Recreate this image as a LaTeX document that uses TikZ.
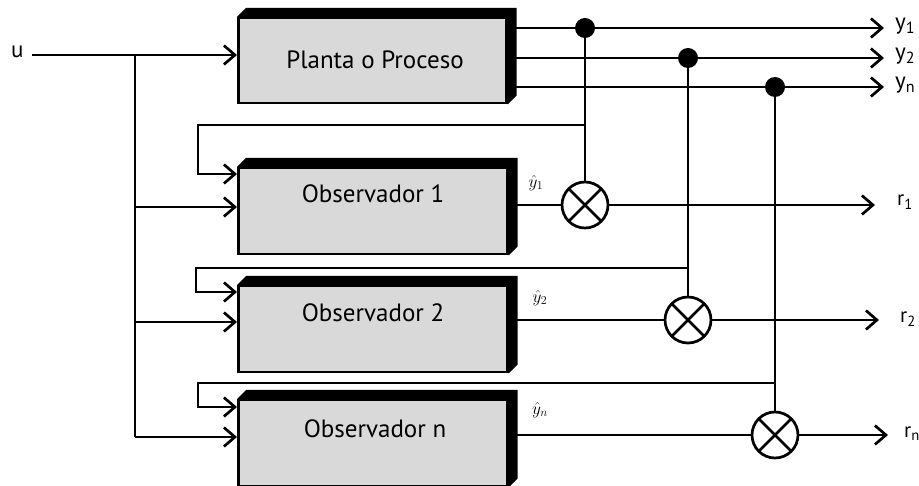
\documentclass[tikz,border=0pt]{standalone}
\usepackage{fontspec}
\setmainfont{PT Sans}
\usetikzlibrary{arrows.meta,calc}
\begin{document}
\begin{tikzpicture}[x=1pt,y=-1pt,
  wire/.style={line width=2.7pt},
  arr/.style={wire,-{Straight Barb[length=11pt,width=19pt,line width=2.7pt]}},
  face/.style={draw,line width=2.5pt,fill=black!15,minimum width=269pt,minimum height=86pt,inner sep=0pt,anchor=north west},
  boxtext/.style={font=\fontsize{25}{27}\selectfont,inner sep=0pt},
  lab/.style={font=\fontsize{23}{25}\selectfont,inner sep=0pt,anchor=west},
  rlab/.style={font=\fontsize{21}{23}\selectfont,inner sep=0pt,anchor=west},
  hatlab/.style={font=\fontsize{17}{19}\selectfont,inner sep=0pt},
  mult/.style={draw,circle,line width=2.7pt,minimum size=46pt,inner sep=0pt,
    path picture={\draw[line width=2.7pt] (path picture bounding box.north west) -- (path picture bounding box.south east)
      (path picture bounding box.north east) -- (path picture bounding box.south west);}},
  dot/.style={fill,circle,minimum size=20pt,inner sep=0pt}
]
\useasboundingbox (0,0) rectangle (919,486);

% boxes (front faces)
\node[face,minimum width=268pt,minimum height=85pt] (plant) at (237,17) {};
\node[face] (obs1) at (237,167) {};
\node[face] (obs2) at (237,285) {};
\node[face] (obsn) at (237,399) {};
% extrusions
\foreach \b in {plant,obs1,obs2,obsn}{
  \fill (\b.north west) -- ++(9,-9) -- ($(\b.north east)+(9,-9)$) -- ($(\b.south east)+(9,-9)$)
    -- (\b.south east) -- (\b.north east) -- cycle;
}
\node[boxtext] (tp) at (375,60) {Planta o Proceso};
\node[boxtext] (t1) at (373,194) {Observador 1};
\node[boxtext] (t2) at (373,313) {Observador 2};
\node[boxtext] (tn) at (375,429) {Observador n};

% input
\node[lab] (u) at (11,52) {u};
\coordinate (pin) at (237,55);
\coordinate (b0) at (135,55);
\coordinate (b1) at (135,207);
\coordinate (b2) at (135,322);
\coordinate (bn) at (135,437);
\draw[arr,shorten <=8pt] (u.east |- pin) -- (pin);
\draw[wire] (b0) -- (bn);
\draw[arr] (b1) -- (b1 -| obs1.west);
\draw[arr] (b2) -- (b2 -| obs2.west);
\draw[arr] (bn) -- (bn -| obsn.west);

% outputs
\coordinate (o1) at (514,28);
\coordinate (o2) at (514,58);
\coordinate (on) at (514,87);
\node[lab] (ly1) at (895,26) {y\textsubscript{1}};
\node[lab] (ly2) at (895,56) {y\textsubscript{2}};
\node[lab] (lyn) at (895,85) {y\textsubscript{n}};
\draw[arr] (o1) -- (884,28) coordinate (e1);
\draw[arr] (o2) -- (884,58) coordinate (e2);
\draw[arr] (on) -- (884,87) coordinate (en);
\node[dot] (d1) at (585,28) {};
\node[dot] (d2) at (688,58) {};
\node[dot] (dn) at (775,87) {};

% multipliers
\node[mult] (m1) at (585,205) {};
\node[mult] (m2) at (688,320) {};
\node[mult] (mn) at (775,435) {};
\draw[wire] (d1) -- (m1);
\draw[wire] (d2) -- (m2);
\draw[wire] (dn) -- (mn);

% feedback loops
\coordinate (f1) at (585,125);
\coordinate (f2) at (688,268);
\coordinate (fn) at (775,383);
\draw[arr] (f1) -- (198,125) -- (198,174) -- ($(obs1.north west)+(0,7)$);
\draw[arr] (f2) -- (196,268) -- (196,292) -- ($(obs2.north west)+(0,7)$);
\draw[arr] (fn) -- (198,383) -- (198,407) -- ($(obsn.north west)+(0,8)$);

% estimates and residuals
\coordinate (h1) at (514,205);
\coordinate (h2) at (514,320);
\coordinate (hn) at (514,435);
\draw[wire] (h1) -- (m1);
\draw[wire] (h2) -- (m2);
\draw[wire] (hn) -- (mn);
\node[hatlab] (hl1) at (536,183) {$\hat{y}_1$};
\node[hatlab] (hl2) at (540,298) {$\hat{y}_2$};
\node[hatlab] (hln) at (540,410) {$\hat{y}_n$};
\node[rlab] (lr1) at (897,202) {r\textsubscript{1}};
\node[rlab] (lr2) at (900,319) {r\textsubscript{2}};
\node[rlab] (lrn) at (904,434) {r\textsubscript{n}};
\draw[arr] (m1) -- (875,205) coordinate (er1);
\draw[arr] (m2) -- (879,320) coordinate (er2);
\draw[arr] (mn) -- (888,435) coordinate (ern);
\end{tikzpicture}
\end{document}
